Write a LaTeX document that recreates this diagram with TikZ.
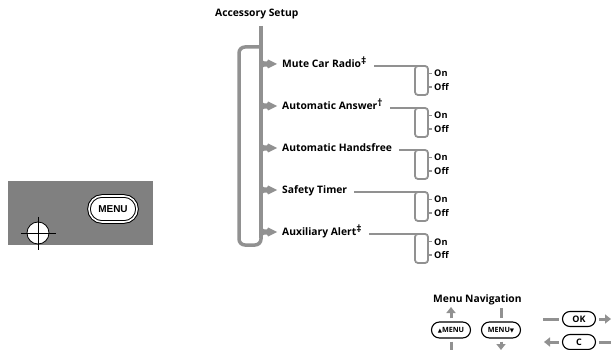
\documentclass[tikz,border=0pt]{standalone}
\usepackage{fontspec}
\setmainfont{Open Sans}
\newfontfamily\btnfont{Liberation Sans}
\newfontfamily\symfont{DejaVu Sans}
\usetikzlibrary{arrows.meta,shapes.misc}
\definecolor{lg}{RGB}{145,145,145}
\definecolor{panel}{RGB}{128,128,128}
\tikzset{
  trunkline/.style={draw=lg, line width=3.5pt},
  thinline/.style={draw=lg, line width=1.8pt},
  itemtext/.style={font=\bfseries\fontsize{10.3}{12}\selectfont, anchor=base west, inner sep=0pt},
  opttext/.style={font=\bfseries\fontsize{9.2}{10}\selectfont, anchor=base west, inner sep=0pt},
  titletext/.style={font=\bfseries\fontsize{10.3}{12}\selectfont, anchor=base west, inner sep=0pt},
  menubtn/.style={rounded rectangle, draw=black, line width=1pt, double=white, double distance=1.6pt, fill=white,
     minimum width=48pt, minimum height=26pt, inner sep=0pt, font=\btnfont\bfseries\fontsize{10}{11}\selectfont},
  navbtn/.style={rounded rectangle, draw=black, line width=1.1pt, fill=white, minimum width=39pt, minimum height=16pt,
     inner sep=0pt, font=\bfseries\fontsize{7.2}{8}\selectfont},
  okbtn/.style={navbtn, minimum width=33pt, minimum height=15pt, font=\bfseries\fontsize{9}{10}\selectfont},
  navarr/.style={draw=lg, line width=3pt, -{Triangle[length=6pt,width=9pt]}},
  navline/.style={draw=lg, line width=3pt},
  cross/.style={draw=black, line width=0.8pt}
}
\begin{document}
\begin{tikzpicture}[x=1pt,y=-1pt]
\useasboundingbox (0,0) rectangle (611,350);

% ---------- left panel ----------
\fill[panel] (8,181) rectangle (153,245);
\node[menubtn] (menu) at (113,209) {MENU};
\draw[cross, fill=white] (38,233) circle (11);
\draw[cross] (21,233) -- (56,233);
\draw[cross] (38,217) -- (38,250);

% ---------- accessory setup tree ----------
\node[titletext] (acc) at (215,17) {Accessory Setup};
\draw[trunkline] (261,26) -- (261,238);
\draw[trunkline, rounded corners=6pt] (261,47) -- (239,47) -- (239,245) -- (261,245) -- (261,232);

\foreach \n/\y/\t in {1/64/{Mute Car Radio\textsuperscript{\fontsize{10}{10}\selectfont\textdaggerdbl}},
                      2/106/{Automatic Answer\textsuperscript{\fontsize{10}{10}\selectfont\textdagger}},
                      3/148/{Automatic Handsfree},
                      4/190/{Safety Timer},
                      5/232/{Auxiliary Alert\textsuperscript{\fontsize{10}{10}\selectfont\textdaggerdbl}}}{
  \coordinate (t\n) at (262,\y);
  \fill[lg] (259.5,\y-9) .. controls (261.5,\y-3) and (263,\y-2.5) .. (267,\y-2.5) -- (268,\y-4.5) -- (277,\y)
        -- (268,\y+4.5) -- (267,\y+2.5) .. controls (263,\y+2.5) and (261.5,\y+3) .. (259.5,\y+9) -- cycle;
  \node[itemtext] (m\n) at (282,\y+3.7) {\t};
  \coordinate (b\n) at (415,\y+2);
  \path (m\n.east) ++(7,0) coordinate (s\n);
  \draw[thinline] (s\n |- b\n) -- ([xshift=3pt]b\n);
  \draw[thinline, rounded corners=3pt] (b\n) rectangle (428,\y+31);
  \draw[thinline] (428,\y+9.5) -- (432,\y+9.5);
  \draw[thinline] (428,\y+23) -- (432,\y+23);
  \node[opttext] (on\n) at (434,\y+13) {On};
  \node[opttext] (off\n) at (434,\y+26.5) {Off};
}

% ---------- menu navigation ----------
\node[titletext] (nav) at (433,302) {Menu Navigation};
\node[navbtn] (up) at (451,330) {{\symfont\fontsize{5.5}{6}\selectfont ▲}MENU};
\node[navbtn] (down) at (501,330) {MENU{\symfont\fontsize{5.5}{6}\selectfont ▼}};
\coordinate (uptip) at (451,307);
\coordinate (upend) at (451,351);
\coordinate (dntop) at (501,308);
\coordinate (dntip) at (501,350);
\draw[navarr] ([yshift=3pt]up.north) -- (uptip);
\draw[navline] ([yshift=-3pt]up.south) -- (upend);
\draw[navline] (dntop) -- ([yshift=3pt]down.north);
\draw[navarr] ([yshift=-3pt]down.south) -- (dntip);

\node[okbtn] (ok) at (579,319) {OK};
\node[okbtn] (c) at (579,342) {C};
\coordinate (okl) at (543,319);
\coordinate (okr) at (611,319);
\coordinate (cl) at (544,342);
\coordinate (cr) at (611,342);
\draw[navline] (okl) -- ([xshift=-3pt]ok.west);
\draw[navarr] ([xshift=3pt]ok.east) -- (okr);
\draw[navarr] ([xshift=-3pt]c.west) -- (cl);
\draw[navline] ([xshift=3pt]c.east) -- (cr);
\end{tikzpicture}
\end{document}
